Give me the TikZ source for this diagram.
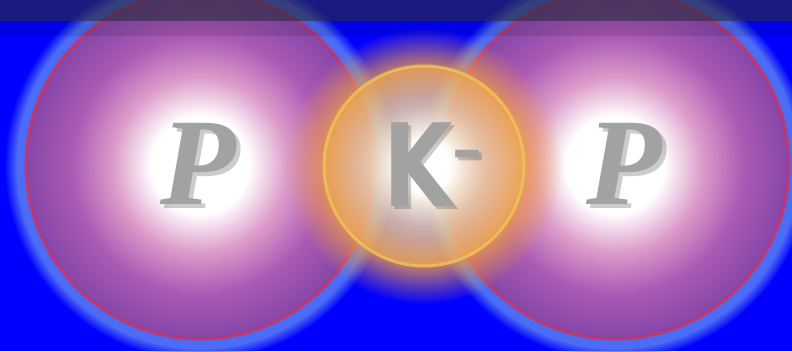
\documentclass[tikz,border=0pt]{standalone}
\usepackage{fontspec}
\usepackage{graphicx}
\usetikzlibrary{fadings}
\newfontfamily\ProtonFont{Liberation Serif}
\newfontfamily\KaonFont{DejaVu Sans}
\definecolor{FieldBlue}{HTML}{0000FF}
\definecolor{HaloBlue}{HTML}{4C6CF6}
\definecolor{ProtonPink}{HTML}{DC9CCA}
\definecolor{ProtonMid}{HTML}{AA5AB4}
\definecolor{ProtonEdge}{HTML}{8646A8}
\definecolor{ProtonRim}{HTML}{C83466}
\definecolor{KaonLight}{HTML}{F4DCAE}
\definecolor{KaonEdge}{HTML}{EEA84E}
\definecolor{KaonRim}{HTML}{F0C858}
\definecolor{KaonHalo}{HTML}{F09A48}
\definecolor{LetterGray}{HTML}{A2A2A2}
\definecolor{TopShade}{HTML}{2A2A3E}

% shadings and fadings are stretched so that 25bp sits on the rim
\pgfdeclareradialshading{protonball}{\pgfpoint{0bp}{0bp}}{color(0bp)=(white); color(7bp)=(white); color(12.5bp)=(ProtonPink); color(18.5bp)=(ProtonMid); color(25bp)=(ProtonEdge); color(50bp)=(ProtonEdge)}
\pgfdeclareradialshading{kaonball}{\pgfpoint{0bp}{0bp}}{color(0bp)=(white); color(6bp)=(white); color(15bp)=(KaonLight); color(25bp)=(KaonEdge); color(50bp)=(KaonEdge)}
\pgfdeclareradialshading{haloshade}{\pgfpoint{0bp}{0bp}}{color(0bp)=(white); color(23.4bp)=(white); color(25bp)=(black); color(50bp)=(black)}
\pgfdeclareradialshading{kaonglowshade}{\pgfpoint{0bp}{0bp}}{color(0bp)=(white!35!black); color(13bp)=(white!45!black); color(18bp)=(white); color(25bp)=(black); color(50bp)=(black)}
\pgfdeclareradialshading{kaonbodyshade}{\pgfpoint{0bp}{0bp}}{color(0bp)=(white); color(7bp)=(white); color(15bp)=(white!75!black); color(25bp)=(white!68!black); color(50bp)=(white!68!black)}
\pgfdeclarefading{haloring}{\pgfuseshading{haloshade}}
\pgfdeclarefading{kaonglow}{\pgfuseshading{kaonglowshade}}
\pgfdeclarefading{kaonbody}{\pgfuseshading{kaonbodyshade}}

\newcommand{\protonlabel}{{\ProtonFont\bfseries\itshape\fontsize{124}{124}\selectfont P}}
\newcommand{\kaonlabel}{{\KaonFont\bfseries\fontsize{115}{115}\selectfont\scalebox{0.78}[1]{K}\raisebox{36pt}{\fontsize{60}{60}\selectfont –}}}

\begin{document}
\begin{tikzpicture}[x=1pt, y=1pt,
        halo/.style={circle, inner sep=0pt, minimum size=390pt, fill=HaloBlue, path fading=haloring},
        proton/.style={circle, inner sep=0pt, minimum size=348pt, shade, shading=protonball},
        protonrim/.style={circle, inner sep=0pt, minimum size=348pt, draw=ProtonRim, draw opacity=0.85, line width=3pt},
        kaonhalo/.style={circle, inner sep=0pt, minimum size=276pt, fill=KaonHalo, fill opacity=0.8, path fading=kaonglow},
        kaon/.style={circle, inner sep=0pt, minimum size=200pt, shade, shading=kaonball, path fading=kaonbody},
        kaonrim/.style={circle, inner sep=0pt, minimum size=200pt, draw=KaonRim, draw opacity=0.75, line width=3pt},
        letter/.style={inner sep=0pt, text=LetterGray},
        lettershadow/.style={inner sep=0pt, text=black, text opacity=0.2}
    ]
        \useasboundingbox (0,0) rectangle (792,351);
        \fill[FieldBlue] (0,0) rectangle (792,351);

        % two protons
        \node[halo] (h1) at (200,186) {};
        \node[halo] (h2) at (615,186) {};
        \node[proton] (p1) at (200,186) {};
        \node[proton] (p2) at (615,186) {};
        \node[protonrim] (r1) at (p1) {};
        \node[protonrim] (r2) at (p2) {};

        % kaon in the middle
        \node[kaonhalo] (kh) at (424,185) {};
        \node[kaon] (k) at (424,185) {};
        \node[kaonrim] (kr) at (k) {};

        % labels with soft shadows
        \node[lettershadow] (p1s) at (202,183) {\protonlabel};
        \node[lettershadow] (p2s) at (628,183) {\protonlabel};
        \node[lettershadow] (ks) at (436,183) {\kaonlabel};
        \node[letter] (p1l) at (198,187) {\protonlabel};
        \node[letter] (p2l) at (624,187) {\protonlabel};
        \node[letter] (kl) at (433,186) {\kaonlabel};

        % dark band on top
        \fill[TopShade, fill opacity=0.66] (0,330) rectangle (792,351);
        \fill[black, fill opacity=0.1] (0,315) rectangle (792,330);
\end{tikzpicture}
\end{document}
